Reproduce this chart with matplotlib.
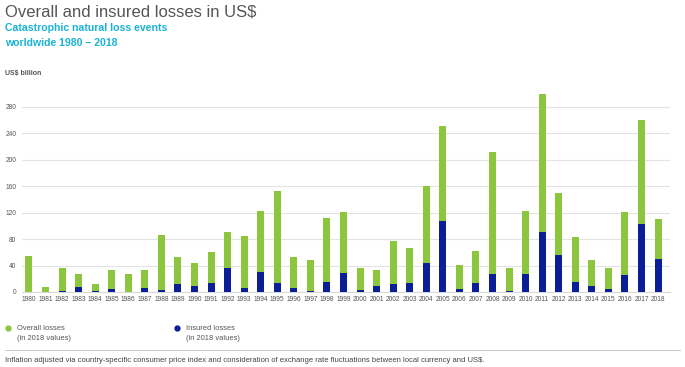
import matplotlib.pyplot as plt
from matplotlib.lines import Line2D

years = list(range(1980, 2019))
overall = [55, 8, 36, 27, 12, 33, 27, 33, 86, 53, 44, 60, 91, 85, 123, 153, 53, 49, 112, 121,
           36, 34, 77, 66, 161, 251, 41, 62, 212, 37, 123, 300, 150, 83, 49, 37, 121, 260, 111]
insured = [0.5, 0, 2, 7, 2, 4.5, 0, 6, 3, 12, 8.5, 13.5, 37, 6, 30, 13.5, 6, 2, 15, 28,
           3, 9.5, 12.5, 14, 44, 107, 4.5, 14, 27, 2, 27, 91, 56, 15.5, 8.5, 4.5, 25.5, 103, 50]
yticks = [0, 40, 80, 120, 160, 200, 240, 280]

green = '#8cc63f'
blue = '#0a1e96'
W, H = 685, 367

plt.rcParams['font.family'] = ['Liberation Sans', 'DejaVu Sans']
fig = plt.figure(figsize=(W / 100, H / 100), dpi=100)
ax = fig.add_axes([22 / W, 1 - 292 / H, 648 / W, 202 / H])

x = list(range(len(years)))
ax.bar(x, overall, width=0.42, color=green, zorder=2)
ax.bar(x, insured, width=0.42, color=blue, zorder=3)

ax.set_xlim(-0.42, 38.72)
ax.set_ylim(0, 305.6)
ax.set_yticks(yticks)
ax.set_yticklabels([str(v) for v in yticks])
ax.set_xticks(x)
ax.set_xticklabels([str(y) for y in years])
ax.tick_params(axis='both', length=0, labelsize=4.8, labelcolor='#555555')
ax.tick_params(axis='y', pad=4)
ax.tick_params(axis='x', pad=3)
ax.grid(axis='y', color='#e3e3e3', linewidth=0.8, zorder=0)
for s in ['top', 'right', 'left']:
    ax.spines[s].set_visible(False)
ax.spines['bottom'].set_color('#d8d8d8')
ax.spines['bottom'].set_linewidth(0.8)

# titles
fig.text(5 / W, 1 - 12 / H, 'Overall and insured losses in US$', fontsize=12,
         color='#555555', va='center', ha='left')
fig.text(5 / W, 1 - 28 / H, 'Catastrophic natural loss events', fontsize=7.6,
         color='#1ab3d4', fontweight='bold', va='center', ha='left')
fig.text(5 / W, 1 - 43 / H, 'worldwide 1980 \u2013 2018', fontsize=7.6,
         color='#1ab3d4', fontweight='bold', va='center', ha='left')
fig.text(5 / W, 1 - 74 / H, 'US$ billion', fontsize=5, color='#555555',
         fontweight='bold', va='center', ha='left')

# legend
fig.add_artist(Line2D([8 / W], [1 - 328 / H], marker='o', markersize=3.5,
                      color=green, transform=fig.transFigure))
fig.text(17 / W, 1 - 328 / H, 'Overall losses', fontsize=5.4, color='#555555', va='center')
fig.text(17 / W, 1 - 339 / H, '(in 2018 values)', fontsize=5.4, color='#555555', va='center')
fig.add_artist(Line2D([177 / W], [1 - 328 / H], marker='o', markersize=3.5,
                      color=blue, transform=fig.transFigure))
fig.text(186 / W, 1 - 328 / H, 'Insured losses', fontsize=5.4, color='#555555', va='center')
fig.text(186 / W, 1 - 339 / H, '(in 2018 values)', fontsize=5.4, color='#555555', va='center')

fig.add_artist(Line2D([5 / W, 680 / W], [1 - 350 / H, 1 - 350 / H], color='#cccccc',
                      linewidth=0.8, transform=fig.transFigure))
fig.text(5 / W, 1 - 360 / H,
         'Inflation adjusted via country-specific consumer price index and consideration of '
         'exchange rate fluctuations between local currency and US$.',
         fontsize=5.5, color='#444444', va='center')

fig.savefig('out.png', dpi=100)
